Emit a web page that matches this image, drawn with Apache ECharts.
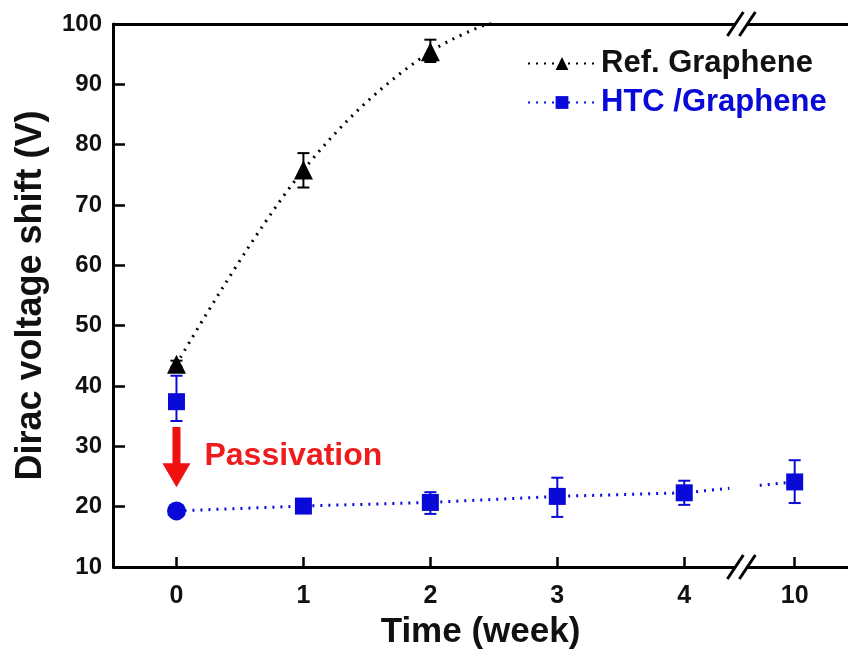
<!DOCTYPE html>
<html>
<head>
<meta charset="utf-8">
<script src="https://cdn.jsdelivr.net/npm/echarts@6.0.0/dist/echarts.min.js"></script>
<style>
html,body{margin:0;padding:0;background:#fff;}
#chart{width:848px;height:658px;}
</style>
</head>
<body>
<div id="chart"></div>
<script>
// ---- data ----
var xTicks = [0, 1, 2, 3, 4, 10];
var refX = [0, 1, 2, 3];
var refY = [43.6, 75.8, 95.4, 104];
var refErrLo = [43.2, 72.9, 93.7, null];
var refErrHi = [44.2, 78.6, 97.4, null];
var htcX = [0, 1, 2, 3, 4, 10];
var htcY = [19.3, 20.1, 20.7, 21.7, 22.3, 24.1];
var htcErrLo = [null, null, 18.8, 18.3, 20.3, 20.6];
var htcErrHi = [null, null, 22.4, 24.8, 24.3, 27.7];
var preX = [0];
var preY = [37.4];
var preErrLo = [34.2];
var preErrHi = [41.7];

var BLUE = '#0a0ad8';
var FONT = '"Liberation Sans", Arial, sans-serif';

var refData = refX.map(function (x, i) {
  var d = { value: [x, refY[i]] };
  if (refY[i] > 100) d.symbol = 'none';
  return d;
});
var htcData = htcX.map(function (x, i) {
  var d = { value: [x, htcY[i]] };
  if (i === 0) { d.symbol = 'circle'; d.symbolSize = 19; }
  return d;
});
function errData(xs, lo, hi) {
  var out = [];
  xs.forEach(function (x, i) { if (lo[i] != null) out.push([x, lo[i], hi[i]]); });
  return out;
}
function errSeries(data, color) {
  return {
    type: 'custom',
    data: data,
    z: 3,
    silent: true,
    encode: { x: 0, y: [1, 2] },
    renderItem: function (params, api) {
      var x = api.value(0);
      var lo = api.coord([x, api.value(1)]);
      var hi = api.coord([x, api.value(2)]);
      var w = 6;
      var st = { stroke: color, lineWidth: 2 };
      return {
        type: 'group',
        children: [
          { type: 'line', shape: { x1: lo[0], y1: lo[1], x2: hi[0], y2: hi[1] }, style: st },
          { type: 'line', shape: { x1: lo[0] - w, y1: lo[1], x2: lo[0] + w, y2: lo[1] }, style: st },
          { type: 'line', shape: { x1: hi[0] - w, y1: hi[1], x2: hi[0] + w, y2: hi[1] }, style: st }
        ]
      };
    }
  };
}

var chart = echarts.init(document.getElementById('chart'));
var axisCommon = {
  type: 'value',
  min: -0.5,
  max: 10.42,
  breaks: [{ start: 4.45, end: 9.58, gap: 0 }],
  breakArea: { show: false, expandOnClick: false },
  splitLine: { show: false }
};
chart.setOption({
  animation: false,
  backgroundColor: '#fff',
  grid: { left: 113, top: 24, right: 0, bottom: 91, containLabel: false },
  legend: {
    orient: 'vertical',
    left: 522,
    top: 43,
    itemWidth: 68,
    itemHeight: 16,
    itemGap: 8,
    selectedMode: false,
    data: [
      { name: 'Ref. Graphene', textStyle: { color: '#111' } },
      { name: 'HTC /Graphene', textStyle: { color: BLUE } }
    ],
    textStyle: { fontFamily: FONT, fontWeight: 'bold', fontSize: 31, padding: [0, 0, 0, 0] }
  },
  xAxis: [
    Object.assign({}, axisCommon, {
      position: 'bottom',
      name: 'Time (week)',
      nameLocation: 'middle',
      nameGap: 48,
      nameTextStyle: { fontFamily: FONT, fontWeight: 'bold', fontSize: 35, color: '#111' },
      axisLine: { show: true, onZero: false, lineStyle: { color: '#000', width: 3 } },
      axisTick: { show: true, inside: true, length: 10, lineStyle: { color: '#000', width: 2.5 }, customValues: xTicks },
      axisLabel: { show: true, margin: 17, fontFamily: FONT, fontWeight: 'bold', fontSize: 25, color: '#111', customValues: xTicks }
    }),
    Object.assign({}, axisCommon, {
      position: 'top',
      axisLine: { show: true, onZero: false, lineStyle: { color: '#000', width: 3 } },
      axisTick: { show: false },
      axisLabel: { show: false }
    })
  ],
  yAxis: {
    type: 'value',
    min: 10,
    max: 100,
    interval: 10,
    name: 'Dirac voltage shift (V)',
    nameLocation: 'middle',
    nameGap: 64,
    nameTextStyle: { fontFamily: FONT, fontWeight: 'bold', fontSize: 36, color: '#111' },
    axisLine: { show: true, onZero: false, lineStyle: { color: '#000', width: 3 } },
    axisTick: { show: true, inside: true, length: 12, lineStyle: { color: '#000', width: 2.5 } },
    axisLabel: { margin: 11, fontFamily: FONT, fontWeight: 'bold', fontSize: 24, color: '#111' },
    splitLine: { show: false }
  },
  series: [
    {
      name: 'Ref. Graphene',
      type: 'line',
      data: refData,
      smooth: 0.35,
      clip: true,
      symbol: 'triangle',
      symbolSize: 19,
      itemStyle: { color: '#000' },
      lineStyle: { color: '#000', width: 3, type: [2, 6] },
      z: 4
    },
    {
      name: 'HTC /Graphene',
      type: 'line',
      data: htcData,
      clip: true,
      symbol: 'rect',
      symbolSize: 17,
      itemStyle: { color: BLUE },
      lineStyle: { color: BLUE, width: 3, type: [2, 6] },
      z: 4
    },
    {
      name: 'pre',
      type: 'scatter',
      data: preX.map(function (x, i) { return [x, preY[i]]; }),
      symbol: 'rect',
      symbolSize: 17,
      itemStyle: { color: BLUE, opacity: 1 },
      z: 4
    },
    errSeries(errData(refX, refErrLo, refErrHi), '#000'),
    errSeries(errData(htcX, htcErrLo, htcErrHi), BLUE),
    errSeries(errData(preX, preErrLo, preErrHi), BLUE)
  ]
});

// ---- annotations (break marks, arrow, text) ----
function drawAnnotations() {
  var brk = chart.convertToPixel({ xAxisIndex: 0 }, 4.45);
  var yBot = chart.convertToPixel({ yAxisIndex: 0 }, 10);
  var yTop = chart.convertToPixel({ yAxisIndex: 0 }, 100);
  var x0 = chart.convertToPixel({ xAxisIndex: 0 }, 0);
  var aTop = chart.convertToPixel({ yAxisIndex: 0 }, 33.2);
  var aTip = chart.convertToPixel({ yAxisIndex: 0 }, 23.2);
  var txtY = chart.convertToPixel({ yAxisIndex: 0 }, 28.3);
  var gapTop = chart.convertToPixel({ yAxisIndex: 0 }, 25.5);
  var gapBot = chart.convertToPixel({ yAxisIndex: 0 }, 21.0);
  function slashes(yc) {
    var d = 6, h = 12, sx = 8;
    return [
      { type: 'polygon', shape: { points: [[brk - d - sx, yc + h], [brk - d + sx, yc - h], [brk + d + sx, yc - h], [brk + d - sx, yc + h]] },
        style: { fill: '#fff' }, z: 100 },
      { type: 'line', shape: { x1: brk - d - sx, y1: yc + h, x2: brk - d + sx, y2: yc - h }, style: { stroke: '#000', lineWidth: 3 }, z: 101 },
      { type: 'line', shape: { x1: brk + d - sx, y1: yc + h, x2: brk + d + sx, y2: yc - h }, style: { stroke: '#000', lineWidth: 3 }, z: 101 }
    ];
  }
  var els = slashes(yBot).concat(slashes(yTop));
  // gap in the dotted line at the axis break
  els.push({ type: 'rect', shape: { x: brk - 12, y: gapTop, width: 26, height: gapBot - gapTop }, style: { fill: '#fff' }, z: 99 });
  var hw = 14, sw = 4, headH = 24;
  els.push({
    type: 'polygon',
    shape: { points: [[x0 - sw, aTop], [x0 + sw, aTop], [x0 + sw, aTip - headH], [x0 + hw, aTip - headH], [x0, aTip], [x0 - hw, aTip - headH], [x0 - sw, aTip - headH]] },
    style: { fill: '#f01010' }, z: 50
  });
  els.push({
    type: 'text',
    x: x0 + 28, y: txtY,
    style: { text: 'Passivation', fill: '#ee1c1c', font: 'bold 32px ' + FONT, textVerticalAlign: 'middle' },
    z: 50
  });
  chart.setOption({ graphic: els });
}
drawAnnotations();
</script>
</body>
</html>
